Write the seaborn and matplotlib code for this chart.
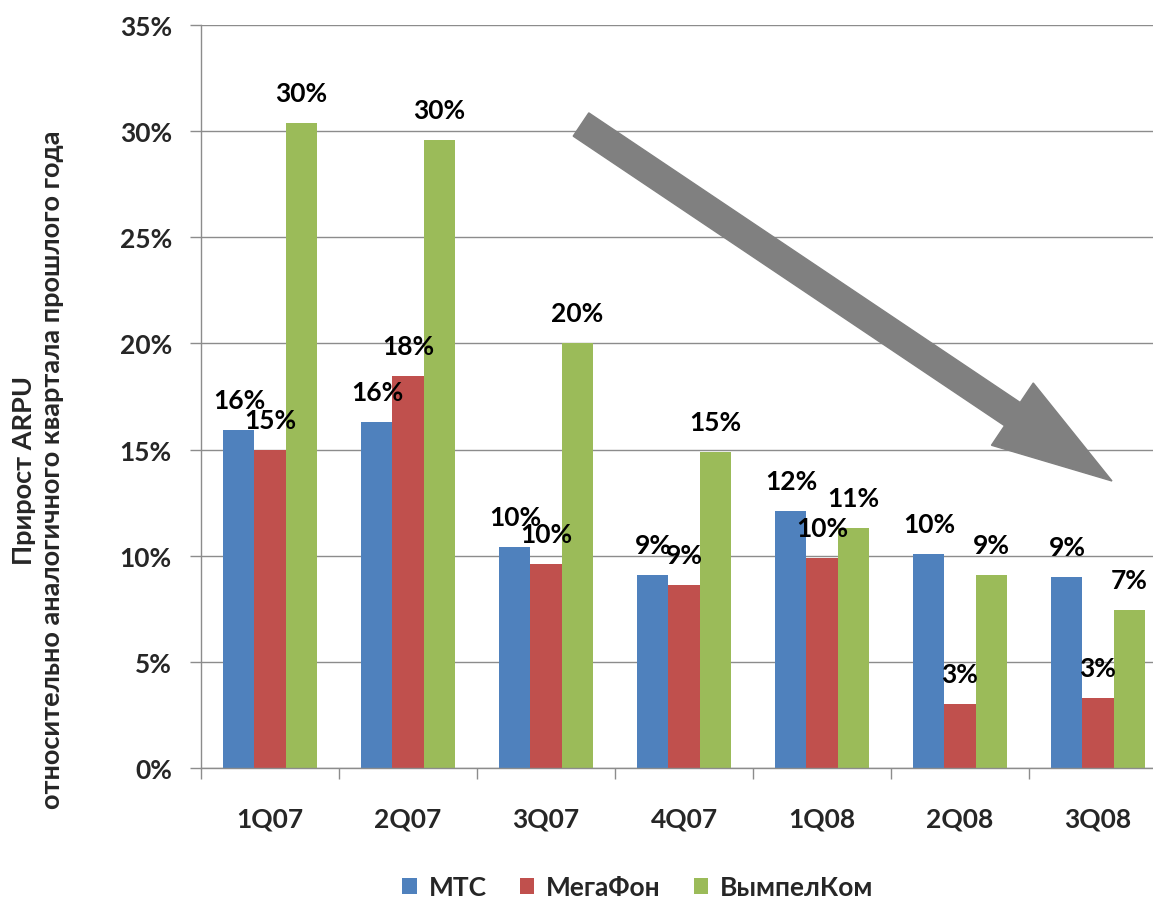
import numpy as np
import pandas as pd
import matplotlib
matplotlib.use("Agg")
import matplotlib.pyplot as plt
import seaborn as sns
from matplotlib.patches import FancyArrow, Patch
from matplotlib.ticker import FixedLocator, PercentFormatter

# ---- data ----
quarters = ["1Q07", "2Q07", "3Q07", "4Q07", "1Q08", "2Q08", "3Q08"]
operators = ["МТС", "МегаФон", "ВымпелКом"]
mts = [15.9, 16.3, 10.4, 9.1, 12.1, 10.1, 9.0]
megafon = [15.0, 18.45, 9.6, 8.6, 9.9, 3.0, 3.3]
vympelcom = [30.4, 29.6, 20.0, 14.9, 11.3, 9.1, 7.45]
colors = ["#4F81BD", "#C0504D", "#9BBB59"]
y_label = "Прирост ARPU\nотносительно аналогичного квартала прошлого года"

df = pd.DataFrame({
    "quarter": quarters * 3,
    "operator": [operators[0]] * 7 + [operators[1]] * 7 + [operators[2]] * 7,
    "value": mts + megafon + vympelcom,
})

sns.set_theme(style="white")
plt.rcParams["font.family"] = ["Lato", "Open Sans", "DejaVu Sans"]
plt.rcParams["font.weight"] = "bold"

W, H = 1153, 904
fig = plt.figure(figsize=(W / 100, H / 100), dpi=100)
ax = fig.add_axes([201 / W, (H - 769) / H, 966 / W, (769 - 26) / H])

sns.barplot(data=df, x="quarter", y="value", hue="operator", order=quarters,
            hue_order=operators, palette=colors, width=0.675, saturation=1,
            edgecolor="none", linewidth=0, ax=ax, legend=False)

ax.set_xlim(-0.5, 6.5)
ax.set_ylim(0, 35)
ax.yaxis.set_major_locator(FixedLocator(np.arange(0, 36, 5)))
ax.yaxis.set_major_formatter(PercentFormatter(decimals=0))
ax.grid(axis="y", color="#8C8C8C", linewidth=1)
ax.set_axisbelow(True)
for s in ["top", "right"]:
    ax.spines[s].set_visible(False)
ax.spines["left"].set_color("#8C8C8C")
ax.spines["bottom"].set_color("#8C8C8C")
ax.spines["left"].set_linewidth(1)
ax.spines["bottom"].set_linewidth(1)

ax.tick_params(axis="y", length=8, width=1, color="#8C8C8C", pad=13,
               labelsize=19, left=True)
ax.set_xticks(np.arange(0, 7))
ax.set_xticklabels(quarters)
ax.set_xticks(np.arange(-0.5, 7, 1), minor=True)
ax.tick_params(axis="x", which="major", length=0, pad=28, labelsize=19)
ax.tick_params(axis="x", which="minor", length=8, width=1, color="#8C8C8C",
               bottom=True)
for lab in ax.get_xticklabels() + ax.get_yticklabels():
    lab.set_fontweight("bold")
ax.set_xlabel("")
ax.set_ylabel("")

for cont in ax.containers:
    labels = [f"{int(round(b.get_height()))}%" for b in cont]
    ax.bar_label(cont, labels=labels, padding=13, fontsize=19,
                 fontweight="bold", color="black")

fig.text(38 / W, 1 - 470 / H, y_label, rotation=90, ha="center", va="center",
         multialignment="center", fontsize=19.5, fontweight="bold",
         linespacing=1.2)

handles = [Patch(facecolor=c, edgecolor="none") for c in colors]
fig.legend(handles, operators, loc="center", bbox_to_anchor=(638 / W, 1 - 888 / H),
           ncol=3, frameon=False, handlelength=0.55,
           handleheight=0.55, handletextpad=0.45, columnspacing=1.25,
           prop={"weight": "bold", "size": 19})

# trend arrow (annotation, in figure inches)
tail = (581 / 100, (H - 125.5) / 100)
tip = (1112 / 100, (H - 482) / 100)
arrow = FancyArrow(tail[0], tail[1], tip[0] - tail[0], tip[1] - tail[1],
                   width=0.28, head_width=0.75, head_length=1.2,
                   length_includes_head=True, color="#808080",
                   transform=fig.dpi_scale_trans, zorder=5)
fig.patches.append(arrow)

fig.savefig("out.png", dpi=100, facecolor="white")
